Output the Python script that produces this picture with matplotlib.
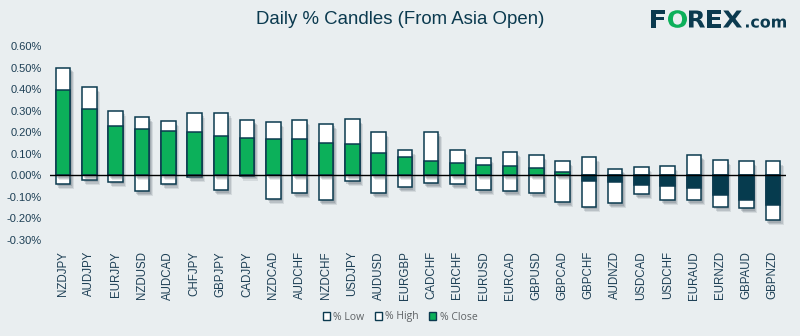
import matplotlib
matplotlib.use("Agg")
import matplotlib.pyplot as plt
import matplotlib.patheffects as pe
from matplotlib.patches import Patch, PathPatch
from matplotlib.ticker import FuncFormatter, MultipleLocator
from matplotlib.textpath import TextPath
from matplotlib.font_manager import FontProperties
from matplotlib.transforms import Affine2D, IdentityTransform

# Daily candle statistics (percent moves from the Asia open)
pairs = ["NZDJPY", "AUDJPY", "EURJPY", "NZDUSD", "AUDCAD", "CHFJPY", "GBPJPY",
         "CADJPY", "NZDCAD", "AUDCHF", "NZDCHF", "USDJPY", "AUDUSD", "EURGBP",
         "CADCHF", "EURCHF", "EURUSD", "EURCAD", "GBPUSD", "GBPCAD", "GBPCHF",
         "AUDNZD", "USDCAD", "USDCHF", "EURAUD", "EURNZD", "GBPAUD", "GBPNZD"]
pct_high = [0.50, 0.41, 0.30, 0.27, 0.25, 0.29, 0.29, 0.255, 0.246, 0.255,
            0.237, 0.26, 0.20, 0.116, 0.20, 0.116, 0.079, 0.107, 0.093, 0.065,
            0.084, 0.028, 0.037, 0.042, 0.093, 0.07, 0.065, 0.065]
pct_low = [-0.04, -0.022, -0.031, -0.074, -0.04, -0.008, -0.07, -0.002, -0.111,
           -0.084, -0.116, -0.028, -0.084, -0.056, -0.037, -0.042, -0.07, -0.074,
           -0.084, -0.125, -0.148, -0.13, -0.088, -0.116, -0.116, -0.148, -0.153,
           -0.209]
pct_close = [0.394, 0.306, 0.227, 0.213, 0.204, 0.20, 0.181, 0.172, 0.167, 0.167,
             0.148, 0.144, 0.102, 0.084, 0.065, 0.056, 0.046, 0.042, 0.032, 0.014,
             -0.025, -0.029, -0.043, -0.048, -0.057, -0.09, -0.113, -0.136]

BG = "#e9eef0"
NAVY = "#0b3a4f"
GREEN = "#0cb05a"
DARK = "#063b4e"
TEXT = "#1d3f55"

plt.rcParams["font.family"] = ["Liberation Sans", "DejaVu Sans"]

W, H = 800, 336
fig = plt.figure(figsize=(W / 100, H / 100), dpi=100, facecolor=BG)
ax = fig.add_axes([0.0625, 0.2857, 0.92, 0.5773], facecolor=BG)

x = list(range(len(pairs)))
width = 0.55
shadow = [pe.SimplePatchShadow(offset=(2.5, -3.5), shadow_rgbFace="#5f6c75", alpha=0.15),
          pe.SimplePatchShadow(offset=(1.8, -2.6), shadow_rgbFace="#5f6c75", alpha=0.22),
          pe.SimplePatchShadow(offset=(1.0, -1.6), shadow_rgbFace="#5f6c75", alpha=0.25),
          pe.Normal()]

low_bars = ax.bar(x, pct_low, width=width, color="white", edgecolor=NAVY,
                  linewidth=1.1, zorder=2)
high_bars = ax.bar(x, pct_high, width=width, color="white", edgecolor=NAVY,
                   linewidth=1.1, zorder=2)
for b in list(low_bars) + list(high_bars):
    b.set_path_effects(shadow)

close_colors = [GREEN if c >= 0 else DARK for c in pct_close]
ax.bar(x, pct_close, width=width, color=close_colors, edgecolor=NAVY,
       linewidth=1.1, zorder=3)

ax.axhline(0, color="black", linewidth=1.0, zorder=4)

ax.set_xlim(-0.5, len(pairs) - 0.5)
ax.set_ylim(-0.30, 0.60)
ax.yaxis.set_major_locator(MultipleLocator(0.10))
ax.yaxis.set_major_formatter(FuncFormatter(lambda v, _: f"{v:.2f}%"))
ax.set_xticks(x)
ax.set_xticklabels(pairs, rotation=90)
ax.tick_params(axis="both", length=0, colors=TEXT, labelsize=8)
ax.tick_params(axis="x", pad=8, labelsize=8.3)
ax.tick_params(axis="y", pad=6)
for s in ax.spines.values():
    s.set_visible(False)

fig.text(0.5, 1 - 19 / H, "Daily % Candles (From Asia Open)", ha="center",
         va="center", fontsize=13.4, color=NAVY)

# FOREX.com wordmark, drawn as stretched glyph outlines in pixel space
logo_prop = FontProperties(family="DejaVu Sans", weight="bold")
baseline = H - 27.5
cap_scale = 17.0 / 0.729
x_scale = 9.0 / 0.56
logo_parts = [("F", 651, 665, NAVY, cap_scale),
              ("O", 668, 687, GREEN, cap_scale),
              ("R", 689, 705, NAVY, cap_scale),
              ("E", 707, 721, NAVY, cap_scale),
              ("X", 723, 742, NAVY, cap_scale),
              (".com", 746, 786, NAVY, x_scale)]
for txt, x0, x1, col, sy in logo_parts:
    path = TextPath((0, 0), txt, size=1, prop=logo_prop)
    ext = path.get_extents()
    sx = (x1 - x0) / ext.width
    tr = Affine2D().translate(-ext.x0, 0).scale(sx, sy).translate(x0, baseline)
    fig.add_artist(PathPatch(tr.transform_path(path), facecolor=col,
                             edgecolor="none", transform=IdentityTransform()))

handles = [Patch(facecolor="white", edgecolor=NAVY, linewidth=1.0),
           Patch(facecolor="white", edgecolor=NAVY, linewidth=1.0),
           Patch(facecolor=GREEN, edgecolor=NAVY, linewidth=1.0)]
leg = fig.legend(handles, ["% Low", "% High", "% Close"], loc="center",
                 bbox_to_anchor=(0.5, 1 - 317 / H), ncol=3, frameon=False,
                 handlelength=0.7, handleheight=0.7, handletextpad=0.3,
                 columnspacing=1.0, prop=dict(family="Open Sans", size=7.5))
for t in leg.get_texts():
    t.set_color("#5f6366")

fig.savefig("out.png", dpi=100, facecolor=BG)
